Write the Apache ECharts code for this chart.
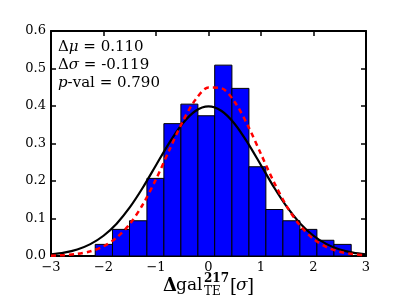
<!DOCTYPE html>
<html><head><meta charset="utf-8">
<script src="https://cdn.jsdelivr.net/npm/echarts@6/dist/echarts.min.js"></script>
<style>html,body{margin:0;padding:0;background:#fff}#c{width:407px;height:307px}</style>
</head><body><div id="c"></div>
<script>
// Histogram bin edges and normalized heights
const binEdges = [-2.158,-1.829,-1.505,-1.173,-0.850,-0.526,-0.202,0.118,0.446,0.770,1.093,1.417,1.741,2.065,2.389,2.718];
const binHeights = [0.031,0.071,0.094,0.207,0.353,0.405,0.374,0.509,0.447,0.238,0.124,0.094,0.071,0.042,0.031];
// Curve sample points
const curveX = [-3,-2.75,-2.5,-2.25,-2,-1.75,-1.5,-1.25,-1,-0.75,-0.5,-0.25,0,0.25,0.5,0.75,1,1.25,1.5,1.75,2,2.25,2.5,2.75,3];
const refCurve = [0.0044,0.0091,0.0175,0.0317,0.0540,0.0863,0.1295,0.1826,0.2420,0.3011,0.3521,0.3867,0.3989,0.3867,0.3521,0.3011,0.2420,0.1826,0.1295,0.0863,0.0540,0.0317,0.0175,0.0091,0.0044];
const fitCurve = [0.0009,0.0023,0.0056,0.0125,0.0257,0.0488,0.0853,0.1375,0.2047,0.2812,0.3563,0.4165,0.4493,0.4472,0.4106,0.3478,0.2718,0.1960,0.1304,0.0801,0.0454,0.0237,0.0114,0.0051,0.0021];
const xTicks = {min:-3, max:3, interval:1};
const yTicks = {min:0, max:0.6, interval:0.1};

const FONT = '"DejaVu Serif", serif';
const chart = echarts.init(document.getElementById('c'), null, {renderer:'canvas'});

function axisCommon(showLabel, pos, t, fmt){
  return {
    type:'value', position:pos, min:t.min, max:t.max, interval:t.interval,
    axisLine:{show:true, onZero:false, lineStyle:{color:'#000', width:2}},
    axisTick:{show:true, inside:true, length:5, lineStyle:{color:'#000', width:1.5}},
    axisLabel:{show:showLabel, color:'#000', fontFamily:FONT, fontSize:13, margin:5, formatter:fmt},
    splitLine:{show:false}
  };
}
const xfmt = v => (v<0?'\u2212'+Math.abs(v):String(v));
const yfmt = v => v.toFixed(1);

chart.setOption({
  animation:false,
  backgroundColor:'#fff',
  grid:{left:51, right:41, top:31, bottom:51, containLabel:false},
  xAxis:[axisCommon(true,'bottom',xTicks,xfmt), axisCommon(false,'top',xTicks,xfmt)],
  yAxis:[axisCommon(true,'left',yTicks,yfmt), axisCommon(false,'right',yTicks,yfmt)],
  series:[
    {
      type:'custom', xAxisIndex:0, yAxisIndex:0,
      data: binHeights.map((h,i)=>[binEdges[i], binEdges[i+1], h]),
      encode:{x:[0,1], y:2},
      renderItem:function(params, api){
        const p0 = api.coord([api.value(0), api.value(2)]);
        const p1 = api.coord([api.value(1), 0]);
        return {type:'rect', shape:{x:p0[0], y:p0[1], width:p1[0]-p0[0], height:p1[1]-p0[1]},
          style:{fill:'#0000ff', stroke:'#000', lineWidth:1}};
      }
    },
    {
      type:'line', data: curveX.map((x,i)=>[x, refCurve[i]]), smooth:0.3, symbol:'none',
      lineStyle:{color:'#000', width:2.2}, z:3
    },
    {
      type:'line', data: curveX.map((x,i)=>[x, fitCurve[i]]), smooth:0.3, symbol:'none',
      lineStyle:{color:'#ff0000', width:2.5, type:[5,4]}, z:4
    }
  ],
  graphic:[
    {type:'text', x:58, y:47, style:{text:'{n|\u0394}{i|\u03bc}{n| = 0.110}', verticalAlign:'middle', align:'left',
      rich:{n:{fontFamily:FONT, fontSize:15, fill:'#000'}, i:{fontFamily:FONT, fontStyle:'italic', fontSize:15, fill:'#000'}}}},
    {type:'text', x:58, y:65, style:{text:'{n|\u0394}{i|\u03c3}{n| = -0.119}', verticalAlign:'middle', align:'left',
      rich:{n:{fontFamily:FONT, fontSize:15, fill:'#000'}, i:{fontFamily:FONT, fontStyle:'italic', fontSize:15, fill:'#000'}}}},
    {type:'text', x:58, y:83, style:{text:'{i|p}{n|-val = 0.790}', verticalAlign:'middle', align:'left',
      rich:{n:{fontFamily:FONT, fontSize:15, fill:'#000'}, i:{fontFamily:FONT, fontStyle:'italic', fontSize:15, fill:'#000'}}}},
    {type:'text', x:163, y:286, style:{text:'\u0394', font:'bold 18px '+FONT, fill:'#000', verticalAlign:'middle', align:'left'}},
    {type:'text', x:176, y:286, style:{text:'gal', font:'17px '+FONT, fill:'#000', verticalAlign:'middle', align:'left'}},
    {type:'text', x:204, y:279, style:{text:'217', font:'bold 12px '+FONT, fill:'#000', verticalAlign:'middle', align:'left'}},
    {type:'text', x:204, y:292, style:{text:'TE', font:'12px '+FONT, fill:'#000', verticalAlign:'middle', align:'left'}},
    {type:'text', x:230, y:287, style:{text:'[', font:'18px '+FONT, fill:'#000', verticalAlign:'middle', align:'left'}},
    {type:'text', x:236, y:286, style:{text:'\u03c3', font:'italic 17px '+FONT, fill:'#000', verticalAlign:'middle', align:'left'}},
    {type:'text', x:247, y:287, style:{text:']', font:'18px '+FONT, fill:'#000', verticalAlign:'middle', align:'left'}}
  ]
});
</script></body></html>
